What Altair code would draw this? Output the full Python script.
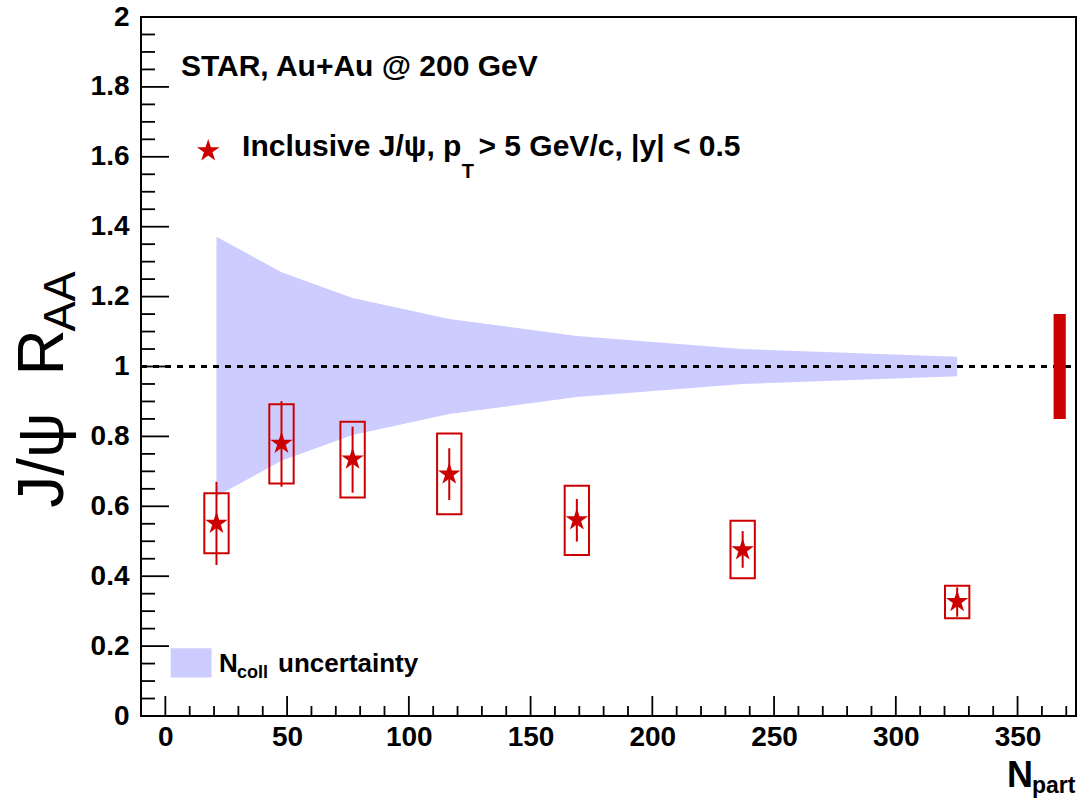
import altair as alt
import pandas as pd

# ---- data ----
npart = [21.0, 47.7, 76.9, 116.6, 169.0, 237.1, 325.2]
raa = [0.551, 0.780, 0.735, 0.692, 0.561, 0.475, 0.327]
stat_hi = [0.670, 0.901, 0.828, 0.766, 0.621, 0.529, 0.368]
stat_lo = [0.432, 0.656, 0.639, 0.618, 0.499, 0.424, 0.284]
sys_hi = [0.637, 0.892, 0.842, 0.808, 0.659, 0.559, 0.373]
sys_lo = [0.466, 0.665, 0.625, 0.577, 0.461, 0.394, 0.280]
box_half = 5.0

band_x = [21.0, 47.7, 76.9, 116.6, 169.0, 237.1, 325.2]
band_hi = [1.371, 1.270, 1.196, 1.136, 1.087, 1.050, 1.028]
band_lo = [0.629, 0.730, 0.804, 0.864, 0.913, 0.950, 0.972]

glob_x = [364.8, 369.8]
glob_y = [0.85, 1.15]

x_major = [0, 50, 100, 150, 200, 250, 300, 350]
x_minor = [v for v in range(10, 371, 10) if v % 50 != 0]
y_major = [0, 0.2, 0.4, 0.6, 0.8, 1, 1.2, 1.4, 1.6, 1.8, 2]
y_minor = [round(0.05 * i, 2) for i in range(41) if i % 4 != 0]

RED = "#CC0000"
BAND = "#CCCCFF"
FONT = "Liberation Sans"

xs = alt.Scale(domain=[-10, 374], nice=False, zero=False)
ys = alt.Scale(domain=[0, 2], nice=False, zero=False)
x_axis = alt.Axis(values=x_major, format="d", title="", ticks=False, domain=False, grid=False,
                  labelFont=FONT, labelFontWeight="bold", labelFontSize=28, labelColor="black",
                  labelPadding=7)
y_axis = alt.Axis(values=y_major, format="~g", title="", ticks=False, domain=False, grid=False,
                  labelFont=FONT, labelFontWeight="bold", labelFontSize=28, labelColor="black",
                  labelPadding=12)


def X(f):
    return alt.X(f, type="quantitative", scale=xs, axis=x_axis)


def Y(f):
    return alt.Y(f, type="quantitative", scale=ys, axis=y_axis)


pts = pd.DataFrame({"x": npart, "y": raa, "shi": stat_hi, "slo": stat_lo,
                    "bhi": sys_hi, "blo": sys_lo,
                    "bx0": [v - box_half for v in npart], "bx1": [v + box_half for v in npart]})
band = pd.DataFrame({"x": band_x, "lo": band_lo, "hi": band_hi})

band_layer = alt.Chart(band).mark_area(color=BAND, opacity=1).encode(
    x=X("x"), y=Y("lo"), y2="hi")

dash = alt.Chart(pd.DataFrame({"x0": [-10], "x1": [374], "y": [1]})).mark_rule(
    color="black", strokeWidth=3, strokeDash=[6, 6]).encode(x=X("x0"), x2="x1", y=Y("y"))

boxes = alt.Chart(pts).mark_rect(fill=None, fillOpacity=0, stroke=RED, strokeWidth=2).encode(
    x=X("bx0"), x2="bx1", y=Y("blo"), y2="bhi")

errs = alt.Chart(pts).mark_rule(color=RED, strokeWidth=2).encode(
    x=X("x"), y=Y("slo"), y2="shi")

STAR = ("M0,-1L0.2245,-0.309L0.951,-0.309L0.363,0.118L0.588,0.809L0,0.382"
        "L-0.588,0.809L-0.363,0.118L-0.951,-0.309L-0.2245,-0.309Z")
stars = alt.Chart(pts).mark_point(shape=STAR, filled=True, color=RED, size=560, opacity=1).encode(
    x=X("x"), y=Y("y"))

glob = alt.Chart(pd.DataFrame({"x0": [glob_x[0]], "x1": [glob_x[1]],
                               "y0": [glob_y[0]], "y1": [glob_y[1]]})).mark_rect(color=RED).encode(
    x=X("x0"), x2="x1", y=Y("y0"), y2="y1")

# legend items
leg_star = alt.Chart(pd.DataFrame({"x": [17.6], "y": [1.617]})).mark_point(
    shape=STAR, filled=True, color=RED, size=560, opacity=1).encode(x=X("x"), y=Y("y"))
leg_band = alt.Chart(pd.DataFrame({"x0": [2.2], "x1": [19.0], "y0": [0.110], "y1": [0.194]})).mark_rect(
    color=BAND).encode(x=X("x0"), x2="x1", y=Y("y0"), y2="y1")

texts = pd.DataFrame({
    "x": [6.4, 31.5, 121.7, 128.6, 22.0, 29.4, 46.3],
    "y": [1.831, 1.601, 1.539, 1.601, 0.126, 0.109, 0.126],
    "t": ["STAR, Au+Au @ 200 GeV", "Inclusive J/ψ, p", "T", "> 5 GeV/c, |y| < 0.5",
          "N", "coll", "uncertainty"],
    "s": [30, 30, 20, 30, 26, 18, 26],
})
txt = alt.Chart(texts).mark_text(align="left", baseline="alphabetic", font=FONT,
                                 fontWeight="bold", color="black").encode(
    x=X("x"), y=Y("y"), text="t:N", size=alt.Size("s:Q", scale=None, legend=None))

one = pd.DataFrame({"a": [0]})
ytitle_a = alt.Chart(one).mark_text(angle=270, align="center", baseline="alphabetic", font=FONT,
                                    fontSize=64, color="black").encode(
    x=alt.value(-78.5), y=alt.value(443), text=alt.value("J/ψ"))
ytitle_b = alt.Chart(one).mark_text(angle=270, align="center", baseline="alphabetic", font=FONT,
                                    fontSize=64, color="black").encode(
    x=alt.value(-78.5), y=alt.value(335.5), text=alt.value("R"))
ytitle_c = alt.Chart(one).mark_text(angle=270, align="center", baseline="alphabetic", font=FONT,
                                    fontSize=45, color="black").encode(
    x=alt.value(-66), y=alt.value(284.5), text=alt.value("AA"))
xtitle_a = alt.Chart(one).mark_text(align="left", baseline="alphabetic", font=FONT,
                                    fontWeight="bold", fontSize=36, color="black").encode(
    x=alt.value(866), y=alt.value(770), text=alt.value("N"))
xtitle_b = alt.Chart(one).mark_text(align="left", baseline="alphabetic", font=FONT,
                                    fontWeight="bold", fontSize=23, color="black").encode(
    x=alt.value(891), y=alt.value(776), text=alt.value("part"))

# inward ticks
tick_y_major = alt.Chart(pd.DataFrame({"v": y_major})).mark_rule(color="black", strokeWidth=1.8).encode(
    y=Y("v"), x=alt.value(0), x2=alt.value(28))
tick_y_minor = alt.Chart(pd.DataFrame({"v": y_minor})).mark_rule(color="black", strokeWidth=1.8).encode(
    y=Y("v"), x=alt.value(0), x2=alt.value(14))
tick_x_major = alt.Chart(pd.DataFrame({"v": x_major})).mark_rule(color="black", strokeWidth=1.8).encode(
    x=X("v"), y=alt.value(699), y2=alt.value(679))
tick_x_minor = alt.Chart(pd.DataFrame({"v": x_minor})).mark_rule(color="black", strokeWidth=1.8).encode(
    x=X("v"), y=alt.value(699), y2=alt.value(689))

chart = alt.layer(
    band_layer, dash, boxes, errs, stars, glob, leg_star, leg_band, txt,
    ytitle_a, ytitle_b, ytitle_c, xtitle_a, xtitle_b,
    tick_y_major, tick_y_minor, tick_x_major, tick_x_minor,
).properties(
    width=935, height=699,
    autosize=alt.AutoSizeParams(type="none"),
    padding={"left": 141, "top": 17, "right": 2, "bottom": 87},
    background="white",
).configure_view(stroke="black", strokeWidth=2)

chart.save("out.html", embed_options={"renderer": "svg", "actions": False})
